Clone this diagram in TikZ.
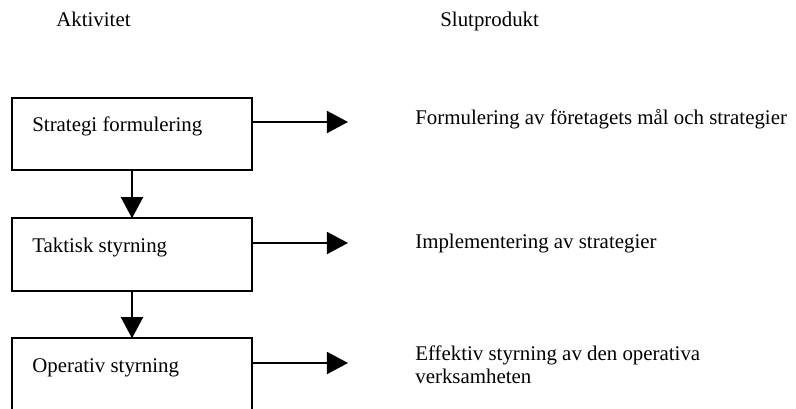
\documentclass[tikz,border=0pt]{standalone}
\usepackage{fontspec}
\setmainfont{Liberation Serif}
\usetikzlibrary{arrows.meta,calc}
\begin{document}
\begin{tikzpicture}[x=0.57pt,y=-0.57pt,
  stage/.style={draw,line width=1.14pt,minimum width=136.8pt,minimum height=41.3pt,
                inner sep=0pt,outer sep=0pt},
  txt/.style={anchor=base west,inner sep=0pt,font=\fontsize{11.9pt}{12.6pt}\selectfont},
  flow/.style={line width=1.14pt,-{Triangle[length=12pt,width=12.5pt]}}]
  \clip (0,0) rectangle (796,409);

  % column headings
  \node[txt] (hact) at (56,27) {Aktivitet};
  \node[txt] (hres) at (440,27) {Slutprodukt};

  % activity boxes
  \node[stage] (s1) at (132,134) {};
  \node[stage] (s2) at (132,254.5) {};
  \node[stage] (s3) at (132,374.5) {};
  \node[txt] (l1) at ($(s1.north west)+(20,34)$) {Strategi formulering};
  \node[txt] (l2) at ($(s2.north west)+(20,34)$) {Taktisk styrning};
  \node[txt] (l3) at ($(s3.north west)+(20,34)$) {Operativ styrning};

  % end products (the two-line node sits on its last baseline)
  \node[txt] (p1) at (415,125) {Formulering av företagets mål och strategier};
  \node[txt] (p2) at (415,249) {Implementering av strategier};
  \node[txt,align=left] (p3) at (415,383) {Effektiv styrning av den operativa\\verksamheten};

  % arrow end points
  \coordinate (e1) at (348,122);
  \coordinate (e2) at (348,243);
  \coordinate (e3) at (348,363);

  % connectors
  \draw[flow] (s1.south) -- (s2.north);
  \draw[flow] (s2.south) -- (s3.north);
  \draw[flow] (s1.east |- e1) -- (e1);
  \draw[flow] (s2.east |- e2) -- (e2);
  \draw[flow] (s3.east |- e3) -- (e3);
\end{tikzpicture}
\end{document}
